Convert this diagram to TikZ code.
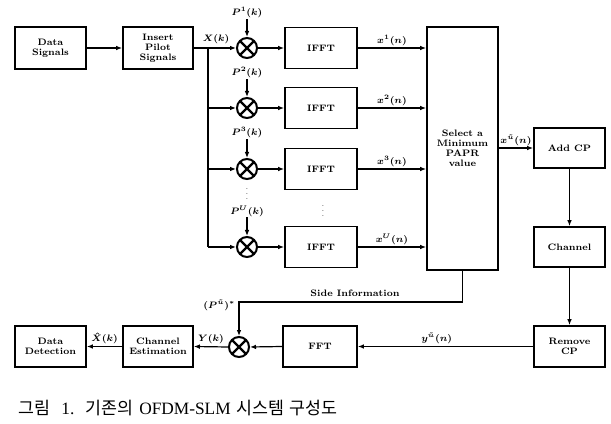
\documentclass[tikz,border=0pt]{standalone}
\usepackage{fontspec}
\usepackage{amsmath}
\newfontfamily\cjk{Noto Sans CJK KR}
\newfontfamily\capserif{Liberation Serif}
\usetikzlibrary{arrows.meta}
\begin{document}
\begin{tikzpicture}[x=0.75pt,y=-0.75pt,
  blk/.style={draw, line width=1.3pt, inner sep=0pt, align=center,
    font=\fontsize{7}{7.5}\selectfont\bfseries},
  mult/.style={circle, draw, line width=1.5pt, minimum size=15pt, inner sep=0pt,
    path picture={\draw[line width=1.8pt] (path picture bounding box.north west) -- (path picture bounding box.south east)
      (path picture bounding box.north east) -- (path picture bounding box.south west);}},
  lab/.style={font=\fontsize{7}{8}\selectfont\boldmath, inner sep=0.5pt},
  con/.style={line width=0.9pt},
  arr/.style={con, -{Latex[length=4.5pt,width=3.5pt]}}]
\useasboundingbox (0,0) rectangle (611,424);
% boxes
\node[blk, minimum width=53.25pt, minimum height=31.5pt] (ds) at (50.5,48) {Data\\Signals};
\node[blk, minimum width=52.5pt, minimum height=31.5pt] (ip) at (158,48) {Insert\\Pilot\\Signals};
\node[blk, minimum width=54pt, minimum height=30.75pt] (f1) at (321,48) {IFFT};
\node[blk, minimum width=54pt, minimum height=30.75pt] (f2) at (321,108) {IFFT};
\node[blk, minimum width=54pt, minimum height=30.75pt] (f3) at (321,169) {IFFT};
\node[blk, minimum width=54pt, minimum height=30.75pt] (f4) at (321,247) {IFFT};
\node[blk, minimum width=53.25pt, minimum height=182.25pt] (sel) at (462.5,148.5) {Select a\\Minimum\\PAPR\\value};
\node[blk, minimum width=53.25pt, minimum height=30pt] (acp) at (569.5,148) {Add CP};
\node[blk, minimum width=53.25pt, minimum height=30pt] (ch) at (569.5,247) {Channel};
\node[blk, minimum width=53.25pt, minimum height=30.75pt] (rcp) at (569.5,346.5) {Remove\\CP};
\node[blk, minimum width=55.5pt, minimum height=30.75pt] (fft) at (320,346.5) {FFT};
\node[blk, minimum width=52.5pt, minimum height=30.75pt] (ce) at (158,346.5) {Channel\\Estimation};
\node[blk, minimum width=53.25pt, minimum height=30.75pt] (dd) at (50.5,346.5) {Data\\Detection};
% multipliers
\node[mult] (m1) at (247,48) {};
\node[mult] (m2) at (247,108) {};
\node[mult] (m3) at (247,169) {};
\node[mult] (m4) at (247,247) {};
\node[mult] (m5) at (239,347) {};
% phase labels
\node[lab] (p1) at (247,13) {$P^{1}(k)$};
\node[lab] (p2) at (247,73) {$P^{2}(k)$};
\node[lab] (p3) at (247,133) {$P^{3}(k)$};
\node[lab] (p4) at (247,211) {$P^{U}(k)$};
\foreach \i in {1,...,4} \draw[arr] (p\i.south) -- (m\i.north);
\node[font=\fontsize{6}{6}\selectfont, inner sep=0pt] (d1) at (247,190) {$\vdots$};
\node[font=\fontsize{6}{6}\selectfont, inner sep=0pt] (d2) at (323,207) {$\vdots$};
% branch
\coordinate (b1) at (208,48);
\coordinate (b2) at (208,108);
\coordinate (b3) at (208,169);
\coordinate (b4) at (208,247);
\draw[arr] (ds) -- (ip);
\draw[arr] (ip.east) -- (m1.west);
\node[lab] (xk) at (216,39) {$X(k)$};
\draw[con] (b1) -- (b4);
\foreach \i in {2,3,4} \draw[arr] (b\i) -- (m\i.west);
\foreach \i in {1,...,4} \draw[arr] (m\i.east) -- (f\i.west);
\draw[arr] (f1.east) -- (f1.east -| sel.west) node[lab, midway, above=1pt] {$x^{1}(n)$};
\draw[arr] (f2.east) -- (f2.east -| sel.west) node[lab, midway, above=1pt] {$x^{2}(n)$};
\draw[arr] (f3.east) -- (f3.east -| sel.west) node[lab, midway, above=1pt] {$x^{3}(n)$};
\draw[arr] (f4.east) -- (f4.east -| sel.west) node[lab, midway, above=1pt] {$x^{U}(n)$};
\draw[arr] (acp.west -| sel.east) -- (acp.west) node[lab, midway, above=1pt] {$x^{\tilde u}(n)$};
\draw[arr] (acp.south) -- (ch.north);
\draw[arr] (ch.south) -- (rcp.north);
\draw[arr] (rcp.west) -- (fft.east) node[lab, pos=0.55, above=1pt] {$y^{\tilde u}(n)$};
\draw[arr] (fft.west) -- (m5.east);
\draw[arr] (m5.west) -- (ce.east) node[lab, midway, above=1pt] {$Y(k)$};
\draw[arr] (ce.west) -- (dd.east) node[lab, midway, above=1pt] {$\hat{X}(k)$};
% side information
\coordinate (s1) at (462.5,302);
\coordinate (s2) at (239,302);
\draw[arr] (sel.south) -- (s1) -- (s2) -- (m5.north);
\node[font=\fontsize{7}{7.5}\selectfont\bfseries] (si) at (355,293) {Side Information};
\node[lab, anchor=east] (pc) at (236,305) {$(P^{\tilde u})^{*}$};
% caption
\node[anchor=west, font=\fontsize{13}{15}\selectfont, inner sep=0pt] (cap) at (18,408) {{\cjk 그림}\ \ {\capserif 1.}\ \ {\cjk 기존의}\ {\capserif OFDM-SLM}\ {\cjk 시스템}\ {\cjk 구성도}};
\end{tikzpicture}
\end{document}
